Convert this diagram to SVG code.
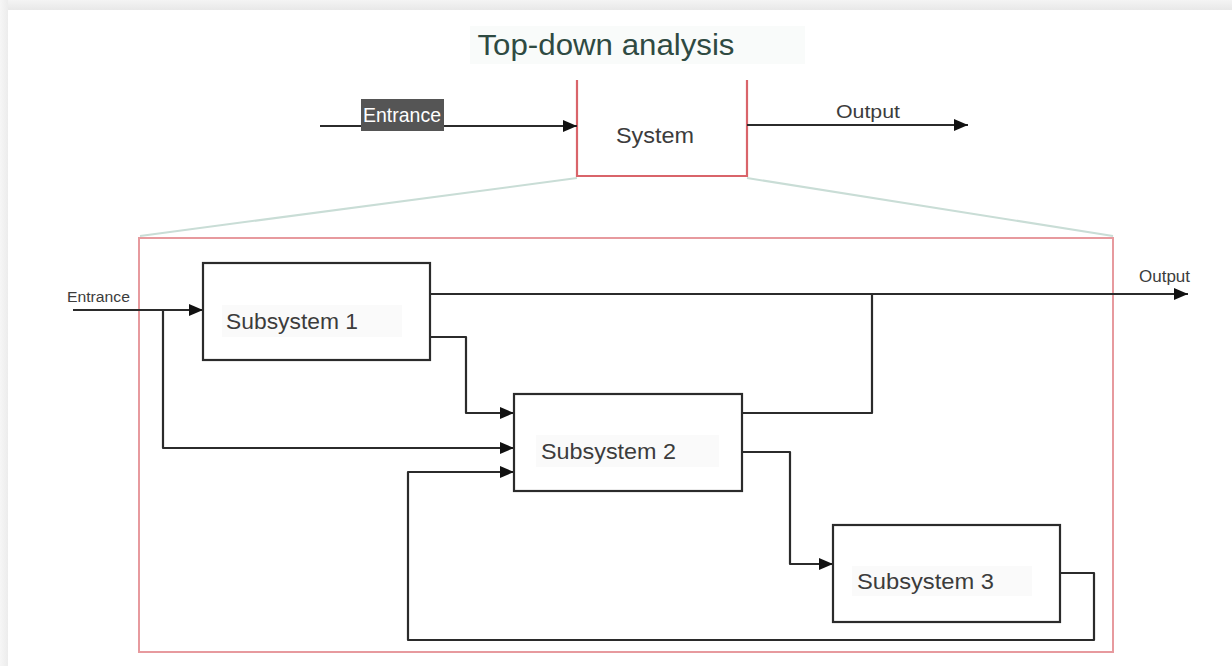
<svg xmlns="http://www.w3.org/2000/svg" width="1232" height="666" viewBox="0 0 1232 666">
  <defs>
    <marker id="arrow" viewBox="0 0 14 12" refX="14" refY="6" markerWidth="14" markerHeight="12" markerUnits="userSpaceOnUse" orient="auto">
      <path d="M0,0 L14,6 L0,12 Z" fill="#111"/>
    </marker>
    <linearGradient id="topShade" x1="0" y1="0" x2="0" y2="1">
      <stop offset="0" stop-color="#f4f4f4"/>
      <stop offset="1" stop-color="#e8e8e8"/>
    </linearGradient>
    <linearGradient id="leftShade" x1="0" y1="0" x2="1" y2="0">
      <stop offset="0" stop-color="#f6f6f6"/>
      <stop offset="1" stop-color="#ececec"/>
    </linearGradient>
  </defs>
  <style>
    .wire { fill: none; stroke: #2b2b2b; stroke-width: 2.2; stroke-linejoin: round; }
    .box { fill: #fff; stroke: #2b2b2b; stroke-width: 2.2; }
    .label { font-family: "Liberation Sans", Arial, sans-serif; fill: #3c3c3c; }
    .red { fill: none; stroke: #d9646a; stroke-width: 2.2; }
    .zoom { fill: none; stroke: #c9ddd6; stroke-width: 2; }
    .backdrop { fill: #fafafa; }
  </style>

  <!-- page backdrop -->
  <rect x="0" y="0" width="1232" height="666" fill="#fff"/>
  <rect x="0" y="0" width="1232" height="10" fill="url(#topShade)"/>
  <rect x="0" y="0" width="8" height="666" fill="url(#leftShade)"/>

  <!-- title -->
  <g id="title">
    <rect x="470" y="26" width="335" height="38" fill="#f9fbfa"/>
    <text x="606" y="55" text-anchor="middle" font-family="'Liberation Sans', Arial, sans-serif" font-size="29" fill="#2f4a42" textLength="257" lengthAdjust="spacingAndGlyphs">Top-down analysis</text>
  </g>

  <!-- overall system (top) -->
  <g id="system">
    <path class="red" d="M577,80 V176 H747 V80"/>
    <text class="label" x="655" y="143" text-anchor="middle" font-size="22" textLength="78" lengthAdjust="spacingAndGlyphs">System</text>
  </g>

  <g id="system-io">
    <line class="wire" x1="320" y1="126" x2="577" y2="126" marker-end="url(#arrow)"/>
    <rect x="361" y="99" width="83" height="32" fill="#555"/>
    <text x="402" y="122" text-anchor="middle" font-family="'Liberation Sans Narrow', 'Liberation Sans', Arial, sans-serif" font-size="21" fill="#fff" textLength="78" lengthAdjust="spacingAndGlyphs">Entrance</text>
    <line class="wire" x1="747" y1="125" x2="968" y2="125" marker-end="url(#arrow)"/>
    <text class="label" x="868" y="118" text-anchor="middle" font-size="19" textLength="64" lengthAdjust="spacingAndGlyphs">Output</text>
  </g>

  <!-- expansion lines and detail frame -->
  <g id="expansion">
    <line class="zoom" x1="577" y1="178" x2="140" y2="236"/>
    <line class="zoom" x1="747" y1="178" x2="1113" y2="236"/>
    <rect x="139" y="238" width="974" height="414" fill="none" stroke="#e79a9e" stroke-width="2"/>
  </g>

  <!-- connectors -->
  <g id="connectors">
    <path class="wire" d="M73,310 H203" marker-end="url(#arrow)"/>
    <path class="wire" d="M163,310 V448 H514" marker-end="url(#arrow)"/>
    <path class="wire" d="M430,294 H1188" marker-end="url(#arrow)"/>
    <path class="wire" d="M430,337 H466 V413 H514" marker-end="url(#arrow)"/>
    <path class="wire" d="M742,413 H872 V294"/>
    <path class="wire" d="M742,452 H790 V564 H833" marker-end="url(#arrow)"/>
    <path class="wire" d="M1060,573 H1094 V640 H408 V472 H514" marker-end="url(#arrow)"/>
  </g>

  <g id="detail-io">
    <text class="label" x="67" y="302" font-size="15.5" fill="#666" textLength="63" lengthAdjust="spacingAndGlyphs">Entrance</text>
    <text class="label" x="1139" y="282" font-size="17" textLength="51" lengthAdjust="spacingAndGlyphs">Output</text>
  </g>

  <!-- subsystems -->
  <g id="subsystem1">
    <rect class="box" x="203" y="263" width="227" height="97"/>
    <rect class="backdrop" x="222" y="305" width="180" height="32"/>
    <text class="label" x="226" y="329" font-size="22.5" textLength="132" lengthAdjust="spacingAndGlyphs">Subsystem 1</text>
  </g>

  <g id="subsystem2">
    <rect class="box" x="514" y="394" width="228" height="97"/>
    <rect class="backdrop" x="536" y="435" width="183" height="32"/>
    <text class="label" x="541" y="459" font-size="22.5" textLength="135" lengthAdjust="spacingAndGlyphs">Subsystem 2</text>
  </g>

  <g id="subsystem3">
    <rect class="box" x="833" y="525" width="227" height="97"/>
    <rect class="backdrop" x="852" y="566" width="180" height="30"/>
    <text class="label" x="857" y="589" font-size="22" textLength="137" lengthAdjust="spacingAndGlyphs">Subsystem 3</text>
  </g>
</svg>
